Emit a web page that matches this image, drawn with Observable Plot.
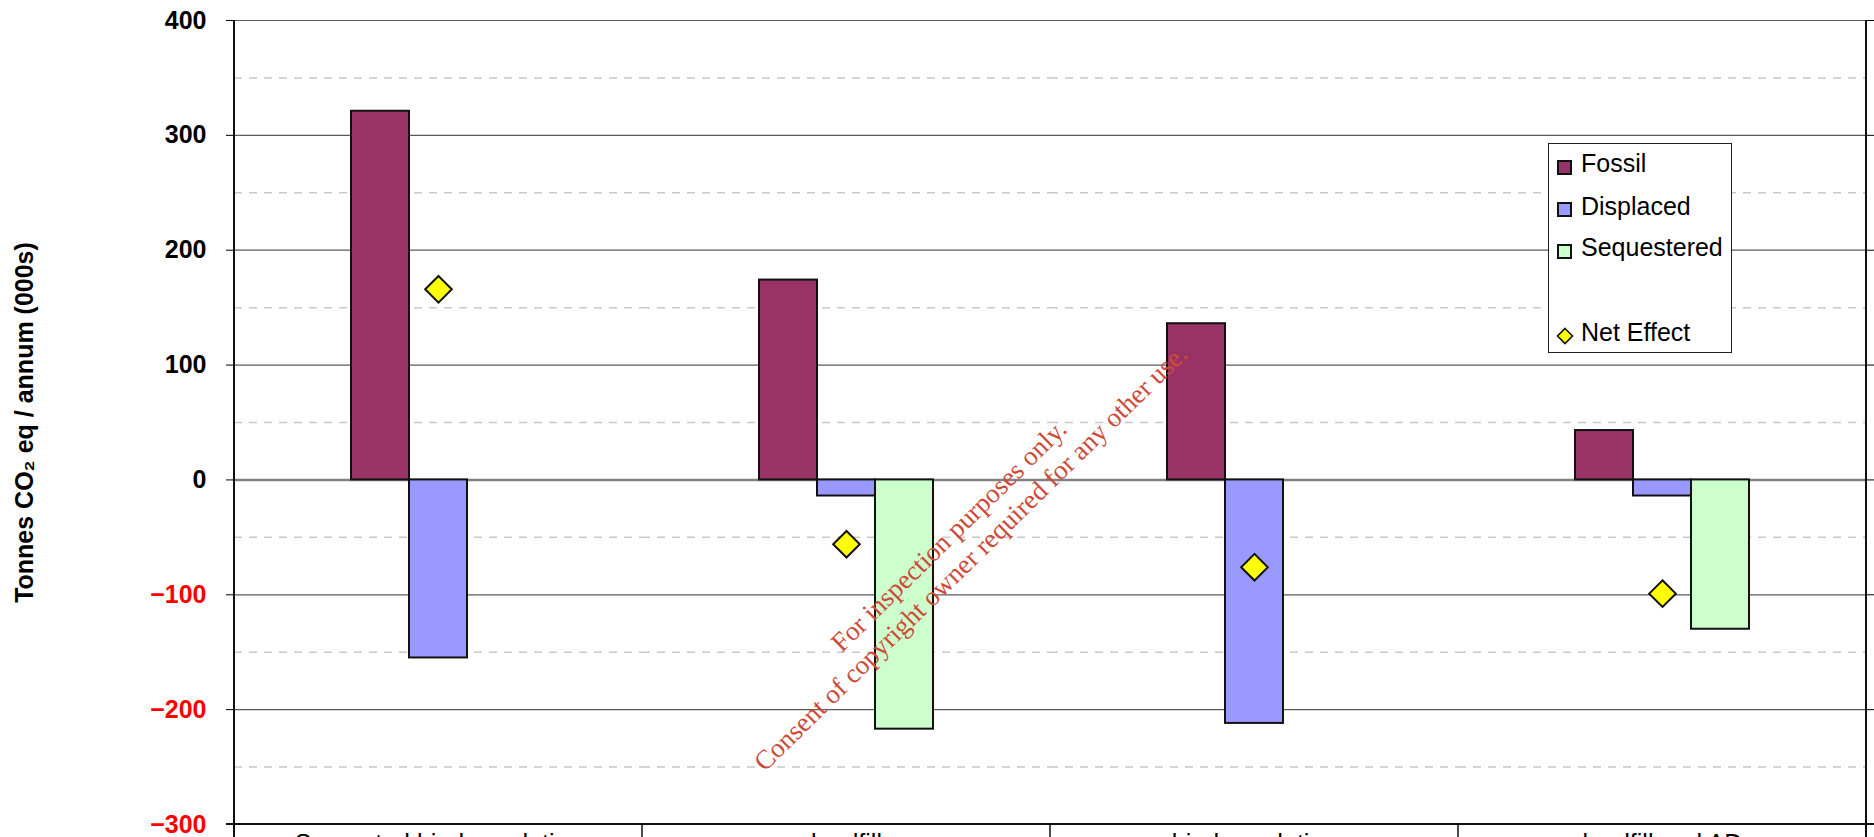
<!DOCTYPE html>
<html><head><meta charset="utf-8">
<script src="https://cdn.jsdelivr.net/npm/d3@7"></script>
<script src="https://cdn.jsdelivr.net/npm/@observablehq/plot@0.6"></script>
<style>
html,body{margin:0;padding:0;background:#fff;overflow:hidden;}
#wrap{position:relative;width:1874px;height:837px;font-family:"Liberation Sans",Arial,sans-serif;}
#chart svg{display:block;}
.legend{position:absolute;left:1548px;top:143px;width:184px;height:210px;border:1.5px solid #222;background:#fff;box-sizing:border-box;}
.sw{position:absolute;left:8px;width:15px;height:15px;border:2px solid #111;box-sizing:border-box;}
.dia{position:absolute;left:7px;width:18px;height:18px;}
.lab{position:absolute;left:32px;font-size:25px;line-height:30px;white-space:nowrap;color:#000;}
.wm{position:absolute;width:800px;height:62px;left:560px;top:516px;transform:rotate(-44.5deg);transform-origin:50% 50%;
  font-family:"Liberation Serif","Times New Roman",serif;font-size:27px;line-height:31px;color:#cd4a3a;text-align:center;white-space:nowrap;pointer-events:none;}
</style>
</head><body>
<div id="wrap"><div id="chart"></div></div>
<script>
const categories = ["Separated biodegradation", "landfill", "biodegradation", "landfill and AD"];
const series = ["Fossil", "Displaced", "Sequestered"];
const seriesColors = ["#993366", "#9999FF", "#CCFFCC"];
const fossil = [321, 174, 136, 43];
const displaced = [-155, -14, -212, -14];
const sequestered = [null, -217, null, -130];
const netEffect = [166, -56, -76, -99];
const netLabel = "Net Effect";
const netColor = "#FFFF00";
const yDomain = [-300, 400];
const yTicksPositive = [0, 100, 200, 300, 400];
const yTicksNegative = [-300, -200, -100];
const yMajorGrid = [-200, -100, 100, 200, 300, 400];
const yMinorGrid = [-250, -150, -50, 50, 150, 250, 350];
const yTitle = "Tonnes CO\u2082 eq / annum (000s)";
const watermarkLines = ["For inspection purposes only.", "Consent of copyright owner required for any other use."];

const valuesBySeries = [fossil, displaced, sequestered];
const bars = [];
series.forEach((s, si) => categories.forEach((c, ci) => {
  const v = valuesBySeries[si][ci];
  if (v != null) bars.push({category: c, series: s, value: v});
}));
const nets = categories.map((c, i) => ({category: c, value: netEffect[i]}));
const middle = series[Math.floor(series.length / 2)];

const W = 1874, H = 837;
const plot = Plot.plot({
  width: W, height: H,
  marginLeft: 234, marginRight: 8, marginTop: 20, marginBottom: 13,
  style: {fontFamily: "Liberation Sans, Arial, sans-serif", background: "white", overflow: "visible", color: "black"},
  fx: {domain: categories, padding: 0, label: null},
  x: {domain: series, paddingInner: 0, paddingOuter: 1.975, axis: null},
  y: {domain: yDomain, labelArrow: "none"},
  color: {domain: series, range: seriesColors},
  marks: [
    Plot.ruleY(yMinorGrid, {stroke: "#c8c8c8", strokeWidth: 1.5, strokeDasharray: "8,7"}),
    Plot.ruleY(yMajorGrid, {stroke: "#5a5a5a", strokeWidth: 1.2}),
    Plot.ruleY([0], {stroke: "#808080", strokeWidth: 2.5}),
    Plot.barY(bars, {fx: "category", x: "series", y: "value", fill: "series", stroke: "#111", strokeWidth: 2}),
    Plot.dot(nets, {fx: "category", x: () => middle, y: "value", symbol: "diamond2", r: 12, fill: netColor, stroke: "#111", strokeWidth: 2}),
    Plot.axisY({anchor: "left", ticks: yTicksPositive, tickSize: 8, tickPadding: 20, fontSize: 25, fontWeight: "bold", fill: "black",
      label: yTitle, labelArrow: "none", labelAnchor: "center", labelOffset: 219}),
    Plot.axisY({anchor: "left", ticks: yTicksNegative, tickSize: 8, tickPadding: 20, fontSize: 25, fontWeight: "bold", fill: "#FF0000", label: null}),
    Plot.axisY({anchor: "right", ticks: yTicksNegative.concat(yTicksPositive), tickSize: 8, tickFormat: () => "", label: null}),
    Plot.axisFx({anchor: "bottom", tickSize: 0, tickPadding: 10, fontSize: 25, label: null})
  ]
});
document.getElementById("chart").appendChild(plot);

// axis lines and category dividers, placed through the plot's own scales
const fx = plot.scale("fx"), y = plot.scale("y");
const bw = fx.bandwidth;
const xLeft = fx.apply(categories[0]);
const xRight = fx.apply(categories[categories.length - 1]) + bw;
const yTop = y.apply(yDomain[1]), yBottom = y.apply(yDomain[0]);
const g = d3.select(plot).append("g").attr("stroke", "#111").attr("fill", "none");
g.append("line").attr("x1", xLeft).attr("x2", xLeft).attr("y1", yTop).attr("y2", H).attr("stroke-width", 2);
g.append("line").attr("x1", xRight).attr("x2", xRight).attr("y1", yTop).attr("y2", H).attr("stroke-width", 2);
g.append("line").attr("x1", xLeft - 8).attr("x2", W).attr("y1", yBottom).attr("y2", yBottom).attr("stroke-width", 2);
categories.slice(1).forEach(c => {
  const x = fx.apply(c);
  g.append("line").attr("x1", x).attr("x2", x).attr("y1", yBottom).attr("y2", H).attr("stroke-width", 1.5);
});

// legend
const wrap = document.getElementById("wrap");
const legend = document.createElement("div");
legend.className = "legend";
const rowCenters = [23, 65.5, 107];
series.forEach((s, i) => {
  const sw = document.createElement("div");
  sw.className = "sw"; sw.style.top = (rowCenters[i] - 7.5) + "px"; sw.style.background = seriesColors[i];
  const lab = document.createElement("div");
  lab.className = "lab"; lab.style.top = (rowCenters[i] - 19) + "px"; lab.textContent = s;
  legend.appendChild(sw); legend.appendChild(lab);
});
const netCenter = 192;
const dia = document.createElementNS("http://www.w3.org/2000/svg", "svg");
dia.setAttribute("class", "dia"); dia.setAttribute("viewBox", "0 0 18 18");
dia.style.top = (netCenter - 9) + "px";
dia.innerHTML = `<path d="M9 1.5L16.5 9L9 16.5L1.5 9Z" fill="${netColor}" stroke="#111" stroke-width="1.6"/>`;
const netLab = document.createElement("div");
netLab.className = "lab"; netLab.style.top = (netCenter - 19) + "px"; netLab.textContent = netLabel;
legend.appendChild(dia); legend.appendChild(netLab);
wrap.appendChild(legend);

// watermark
const wm = document.createElement("div");
wm.className = "wm";
wm.innerHTML = watermarkLines.map(t => `<div>${t}</div>`).join("");
wrap.appendChild(wm);
</script>
</body></html>
